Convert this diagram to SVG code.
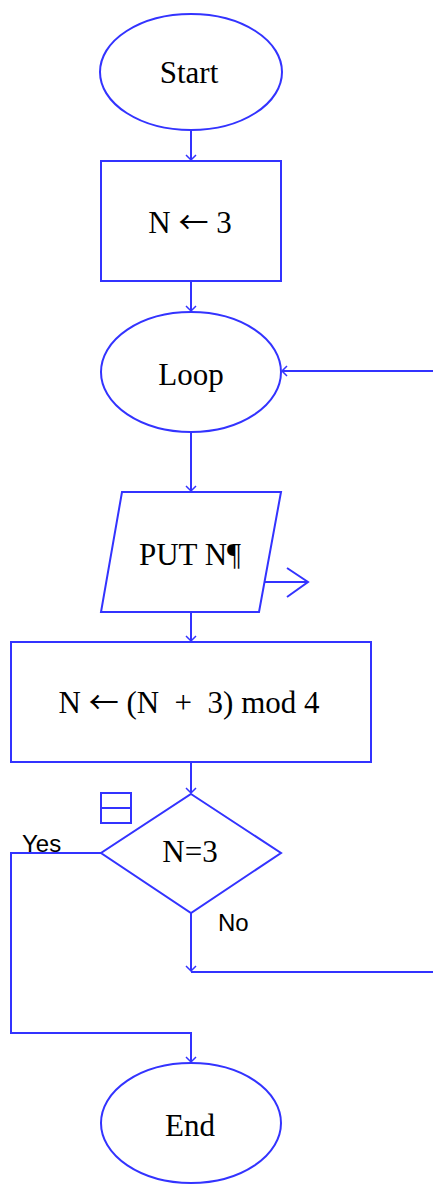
<svg xmlns="http://www.w3.org/2000/svg" width="433" height="1184" viewBox="0 0 433 1184">
<defs>
<marker id="ah" viewBox="-6 -6 12 12" markerWidth="12" markerHeight="12" refX="0" refY="0" orient="auto" markerUnits="userSpaceOnUse">
<path d="M-5,-5 L0,0 L-5,5" fill="none" stroke="#3333ff" stroke-width="1.5"/>
</marker>
<style>
.s{fill:#fff;stroke:#3333ff;stroke-width:2}
.c{fill:none;stroke:#3333ff;stroke-width:2}
.t{font-family:"Liberation Serif","Times New Roman",serif;font-size:31px;fill:#000;text-anchor:middle}
.a{font-family:"Noto Sans CJK SC",sans-serif;font-size:30px}
.l{font-family:"Liberation Sans",Arial,sans-serif;font-size:24px;fill:#000}
</style>
</defs>
<rect width="433" height="1184" fill="#fff"/>
<g id="connectors">
<path class="c" d="M191,131 V160" marker-end="url(#ah)"/>
<path class="c" d="M191,281 V311" marker-end="url(#ah)"/>
<path class="c" d="M433,371 H282" marker-end="url(#ah)"/>
<path class="c" d="M191,432 V491" marker-end="url(#ah)"/>
<path class="c" d="M191,612 V641" marker-end="url(#ah)"/>
<path class="c" d="M191,762 V793" marker-end="url(#ah)"/>
<path class="c" d="M101,853 H11 V1033 H191 V1062" marker-end="url(#ah)"/>
<path class="c" d="M191,913 V971" marker-end="url(#ah)"/>
<path class="c" d="M191,972 H433"/>
<path class="c" d="M264,582 H308 M287,568 L308,582 L287,597"/>
</g>
<g id="start">
<ellipse class="s" cx="191" cy="72" rx="91" ry="58"/>
<text class="t" x="189" y="83">Start</text>
</g>
<g id="assign1">
<rect class="s" x="101" y="161" width="180" height="120"/>
<text class="t" x="190" y="233">N <tspan class="a">←</tspan> 3</text>
</g>
<g id="loop">
<ellipse class="s" cx="191" cy="372" rx="90" ry="60"/>
<text class="t" x="191" y="385">Loop</text>
</g>
<g id="put">
<polygon class="s" points="122,492 281,492 259,612 101,612"/>
<text class="t" x="190" y="565">PUT N¶</text>
</g>
<g id="assign2">
<rect class="s" x="11" y="642" width="360" height="120"/>
<text class="t" x="189" y="713" xml:space="preserve">N <tspan class="a">←</tspan> (N  +  3) mod 4</text>
</g>
<g id="decision">
<polygon class="s" points="191,794 281,853 191,913 101,853"/>
<text class="t" x="190" y="862">N=3</text>
<rect class="c" x="101" y="793" width="30" height="30"/>
<path class="c" d="M101,808 H131"/>
<text class="l" x="22" y="852">Yes</text>
<text class="l" x="218" y="931">No</text>
</g>
<g id="end">
<ellipse class="s" cx="191" cy="1123" rx="90" ry="60"/>
<text class="t" x="190" y="1136">End</text>
</g>
</svg>
